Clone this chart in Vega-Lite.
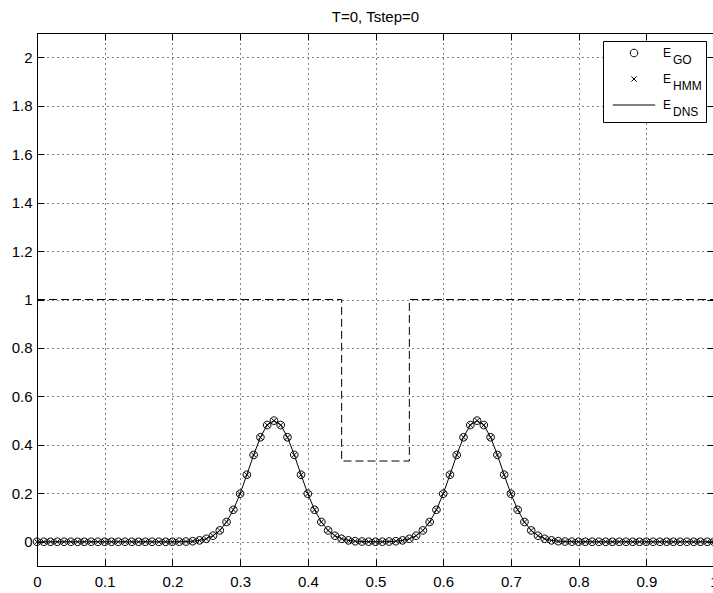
{
  "$schema": "https://vega.github.io/schema/vega-lite/v6.json",
  "width": 677,
  "height": 533,
  "autosize": {"type": "none"},
  "padding": {"left": 37, "top": 33, "right": 0, "bottom": 27},
  "background": "white",
  "title": {"text": "T=0, Tstep=0", "font": "Liberation Sans", "fontSize": 15, "fontWeight": "normal", "color": "black", "offset": 8, "anchor": "middle"},
  "config": {
    "view": {"stroke": "black", "strokeWidth": 1},
    "style": {"guide-label": {"lineHeight": 7}}
  },
  "datasets": {
    "step": [
      {"x": 0, "v": 1},
      {"x": 0.45, "v": 0.3333},
      {"x": 0.55, "v": 1},
      {"x": 1, "v": 1}
    ],
    "e": [
      {"x": 0, "e": 0}, {"x": 0.01, "e": 0}, {"x": 0.02, "e": 0}, {"x": 0.03, "e": 0}, {"x": 0.04, "e": 0},
      {"x": 0.05, "e": 0}, {"x": 0.06, "e": 0}, {"x": 0.07, "e": 0}, {"x": 0.08, "e": 0}, {"x": 0.09, "e": 0},
      {"x": 0.1, "e": 0}, {"x": 0.11, "e": 0}, {"x": 0.12, "e": 0}, {"x": 0.13, "e": 0}, {"x": 0.14, "e": 0},
      {"x": 0.15, "e": 0}, {"x": 0.16, "e": 0}, {"x": 0.17, "e": 0}, {"x": 0.18, "e": 0}, {"x": 0.19, "e": 0},
      {"x": 0.2, "e": 0.0001}, {"x": 0.21, "e": 0.0004}, {"x": 0.22, "e": 0.001}, {"x": 0.23, "e": 0.0024}, {"x": 0.24, "e": 0.0057},
      {"x": 0.25, "e": 0.0124}, {"x": 0.26, "e": 0.025}, {"x": 0.27, "e": 0.0469}, {"x": 0.28, "e": 0.0816}, {"x": 0.29, "e": 0.1321},
      {"x": 0.3, "e": 0.1983}, {"x": 0.31, "e": 0.2767}, {"x": 0.32, "e": 0.3585}, {"x": 0.33, "e": 0.4313}, {"x": 0.34, "e": 0.4818},
      {"x": 0.35, "e": 0.5}, {"x": 0.36, "e": 0.4818}, {"x": 0.37, "e": 0.4313}, {"x": 0.38, "e": 0.3585}, {"x": 0.39, "e": 0.2767},
      {"x": 0.4, "e": 0.1983}, {"x": 0.41, "e": 0.1321}, {"x": 0.42, "e": 0.0816}, {"x": 0.43, "e": 0.0469}, {"x": 0.44, "e": 0.025},
      {"x": 0.45, "e": 0.0124}, {"x": 0.46, "e": 0.0057}, {"x": 0.47, "e": 0.0024}, {"x": 0.48, "e": 0.001}, {"x": 0.49, "e": 0.0004},
      {"x": 0.5, "e": 0.0002}, {"x": 0.51, "e": 0.0004}, {"x": 0.52, "e": 0.001}, {"x": 0.53, "e": 0.0024}, {"x": 0.54, "e": 0.0057},
      {"x": 0.55, "e": 0.0124}, {"x": 0.56, "e": 0.025}, {"x": 0.57, "e": 0.0469}, {"x": 0.58, "e": 0.0816}, {"x": 0.59, "e": 0.1321},
      {"x": 0.6, "e": 0.1983}, {"x": 0.61, "e": 0.2767}, {"x": 0.62, "e": 0.3585}, {"x": 0.63, "e": 0.4313}, {"x": 0.64, "e": 0.4818},
      {"x": 0.65, "e": 0.5}, {"x": 0.66, "e": 0.4818}, {"x": 0.67, "e": 0.4313}, {"x": 0.68, "e": 0.3585}, {"x": 0.69, "e": 0.2767},
      {"x": 0.7, "e": 0.1983}, {"x": 0.71, "e": 0.1321}, {"x": 0.72, "e": 0.0816}, {"x": 0.73, "e": 0.0469}, {"x": 0.74, "e": 0.025},
      {"x": 0.75, "e": 0.0124}, {"x": 0.76, "e": 0.0057}, {"x": 0.77, "e": 0.0024}, {"x": 0.78, "e": 0.001}, {"x": 0.79, "e": 0.0004},
      {"x": 0.8, "e": 0.0001}, {"x": 0.81, "e": 0}, {"x": 0.82, "e": 0}, {"x": 0.83, "e": 0}, {"x": 0.84, "e": 0},
      {"x": 0.85, "e": 0}, {"x": 0.86, "e": 0}, {"x": 0.87, "e": 0}, {"x": 0.88, "e": 0}, {"x": 0.89, "e": 0},
      {"x": 0.9, "e": 0}, {"x": 0.91, "e": 0}, {"x": 0.92, "e": 0}, {"x": 0.93, "e": 0}, {"x": 0.94, "e": 0},
      {"x": 0.95, "e": 0}, {"x": 0.96, "e": 0}, {"x": 0.97, "e": 0}, {"x": 0.98, "e": 0}, {"x": 0.99, "e": 0},
      {"x": 1, "e": 0}
    ]
  },
  "layer": [
    {
      "data": {"name": "step"},
      "mark": {"type": "line", "interpolate": "step-after", "color": "black", "strokeWidth": 1, "strokeDash": [8, 4]},
      "encoding": {
        "x": {"field": "x", "type": "quantitative", "scale": {"domain": [0, 1], "nice": false, "zero": false},
          "axis": {"orient": "top", "values": [0, 0.1, 0.2, 0.3, 0.4, 0.5, 0.6, 0.7, 0.8, 0.9, 1], "labels": false, "grid": false, "tickSize": -7, "tickColor": "black", "domainColor": "black", "title": null}},
        "y": {"field": "v", "type": "quantitative", "scale": {"domain": [-0.1, 2.1], "nice": false, "zero": false},
          "axis": {"orient": "right", "values": [0, 0.2, 0.4, 0.6, 0.8, 1, 1.2, 1.4, 1.6, 1.8, 2], "labels": false, "grid": false, "tickSize": -7, "tickColor": "black", "domainColor": "black", "title": null}}
      }
    },
    {
      "data": {"name": "e"},
      "mark": {"type": "line", "color": "black", "strokeWidth": 1},
      "encoding": {
        "x": {"field": "x", "type": "quantitative", "scale": {"domain": [0, 1], "nice": false, "zero": false},
          "axis": {"orient": "bottom", "values": [0, 0.1, 0.2, 0.3, 0.4, 0.5, 0.6, 0.7, 0.8, 0.9, 1], "format": "~g", "grid": true, "gridColor": "black", "gridDash": [1, 4], "gridWidth": 1, "tickSize": -7, "tickColor": "black", "domainColor": "black", "labelColor": "black", "labelFont": "Liberation Sans", "labelFontSize": 15, "labelPadding": 15, "labelOverlap": false, "labelFlush": false, "title": null}},
        "y": {"field": "e", "type": "quantitative", "scale": {"domain": [-0.1, 2.1], "nice": false, "zero": false},
          "axis": {"orient": "left", "values": [0, 0.2, 0.4, 0.6, 0.8, 1, 1.2, 1.4, 1.6, 1.8, 2], "format": "~g", "grid": true, "gridColor": "black", "gridDash": [1, 4], "gridWidth": 1, "tickSize": -7, "tickColor": "black", "domainColor": "black", "labelColor": "black", "labelFont": "Liberation Sans", "labelFontSize": 15, "labelPadding": 12, "labelOverlap": false, "labelFlush": false, "title": null}}
      }
    },
    {
      "data": {"name": "e"},
      "mark": {"type": "point", "filled": false, "color": "black", "size": 200, "strokeWidth": 1, "opacity": 1},
      "encoding": {
        "x": {"field": "x", "type": "quantitative", "axis": null},
        "y": {"field": "e", "type": "quantitative", "axis": null},
        "shape": {
          "datum": "E_GO",
          "scale": {"domain": ["E_GO", "E_HMM", "E_DNS"], "range": ["M-0.54,0A0.54,0.54,0,1,0,0.54,0A0.54,0.54,0,1,0,-0.54,0Z", "M-0.37,-0.37L0.37,0.37M-0.37,0.37L0.37,-0.37", "M-3,0L3,0"]},
          "legend": {"title": null, "orient": "top-right", "offset": 8, "strokeColor": "black", "fillColor": "white", "padding": 4, "symbolSize": 200, "symbolOffset": 19, "symbolStrokeColor": "black", "symbolFillColor": "transparent", "symbolStrokeWidth": 1, "labelFont": "Liberation Sans", "labelFontSize": 12, "labelColor": "black", "labelOffset": 21, "rowPadding": 5, "labelLimit": 0,
            "labelExpr": "['E', '\u200b\u00a0\u00a0\u00a0' + slice(datum.label, 2)]"}
        }
      }
    },
    {
      "data": {"name": "e"},
      "mark": {"type": "point", "filled": false, "color": "black", "size": 200, "strokeWidth": 1, "opacity": 1},
      "encoding": {
        "x": {"field": "x", "type": "quantitative", "axis": null},
        "y": {"field": "e", "type": "quantitative", "axis": null},
        "shape": {"datum": "E_HMM"}
      }
    }
  ],
  "resolve": {"axis": {"x": "independent", "y": "independent"}}
}
